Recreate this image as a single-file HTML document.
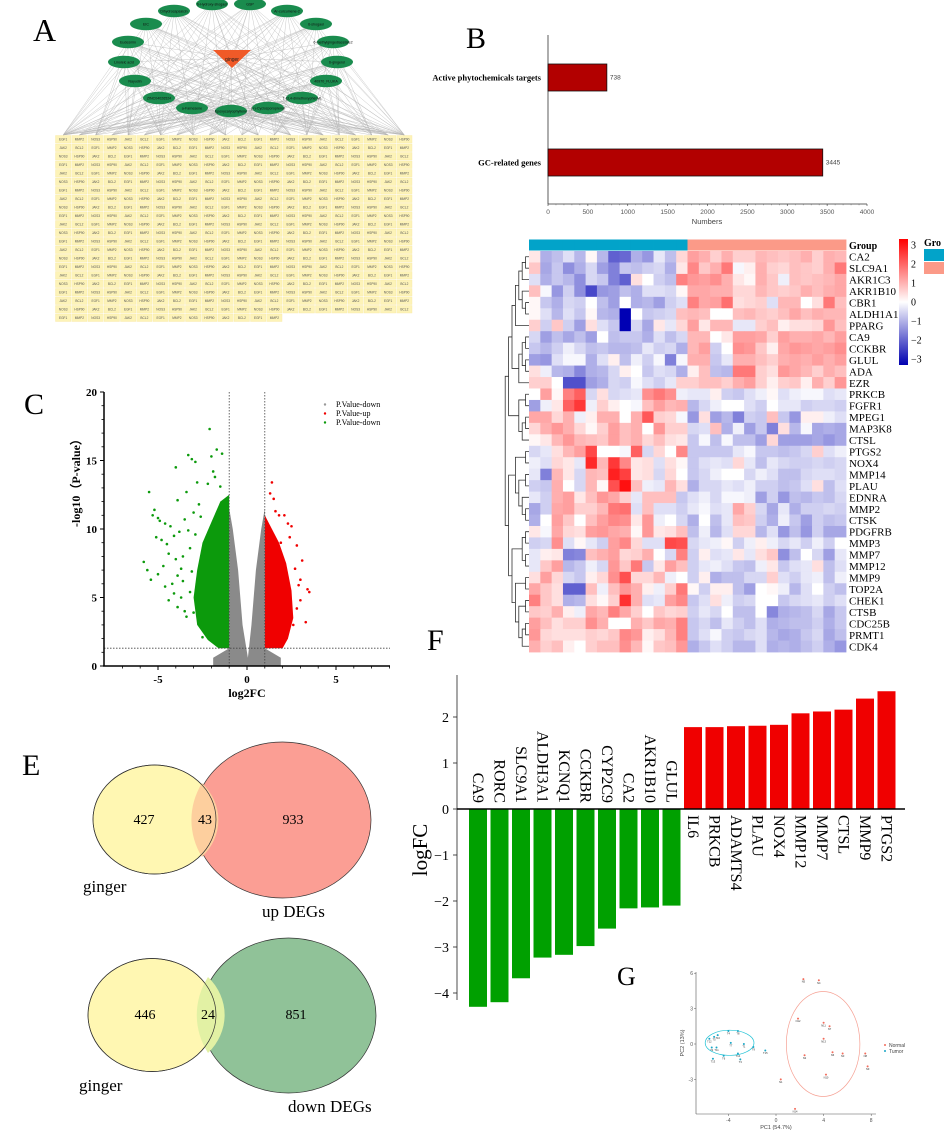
<!DOCTYPE html>
<html><head><meta charset="utf-8">
<style>
html,body{margin:0;padding:0;background:#fff;}
svg{display:block;font-family:"Liberation Serif",serif;}
.sans{font-family:"Liberation Sans",sans-serif;}
</style></head>
<body>
<svg id="fig" width="944" height="1135" viewBox="0 0 944 1135" xmlns="http://www.w3.org/2000/svg">
<text x="33" y="41" font-size="32">A</text>
<text x="466" y="48" font-size="30">B</text>
<text x="24" y="414" font-size="30">C</text>
<text x="566" y="288" font-size="30">D</text>
<text x="22" y="775" font-size="30">E</text>
<text x="427" y="650" font-size="30">F</text>
<text x="617" y="985" font-size="26">G</text>

<g id="panelA"></g>
<g id="panelB"></g>
<g id="panelC"></g>
<g id="panelD"></g>

<g id="panelE">
  <ellipse cx="154.5" cy="819.5" rx="61.5" ry="54.5" fill="#fff7b2" stroke="#333" stroke-width="0.7"/>
  <ellipse cx="282.5" cy="820" rx="88.5" ry="78" fill="#fb9e94" stroke="#333" stroke-width="0.7"/>
  <path d="M202,783 A61.5,54.5 0 0 1 202,857 A88.5,78 0 0 1 202,783Z" fill="#fdcf9e" stroke="none"/>
  <ellipse cx="154.5" cy="819.5" rx="61.5" ry="54.5" fill="none" stroke="#333" stroke-width="0.7"/>
  <text x="144" y="824" font-size="14" text-anchor="middle">427</text>
  <text x="205" y="824" font-size="14" text-anchor="middle">43</text>
  <text x="293" y="824" font-size="14" text-anchor="middle">933</text>
  <text x="83" y="892" font-size="17">ginger</text>
  <text x="262" y="917" font-size="17">up DEGs</text>

  <ellipse cx="152" cy="1015" rx="64" ry="56.5" fill="#fff7b2" stroke="#333" stroke-width="0.7"/>
  <ellipse cx="288.5" cy="1015.5" rx="87.5" ry="77.5" fill="#90c298" stroke="#333" stroke-width="0.7"/>
  <path d="M208,977 A64,56.5 0 0 1 208,1053 A87.5,77.5 0 0 1 208,977Z" fill="#e2f1a4"/>
  <ellipse cx="152" cy="1015" rx="64" ry="56.5" fill="none" stroke="#333" stroke-width="0.7"/>
  <text x="145" y="1019" font-size="14" text-anchor="middle">446</text>
  <text x="208" y="1019" font-size="14" text-anchor="middle">24</text>
  <text x="296" y="1019" font-size="14" text-anchor="middle">851</text>
  <text x="79" y="1091" font-size="17">ginger</text>
  <text x="288" y="1112" font-size="17">down DEGs</text>
</g>

<g id="panelF"></g>
<g id="panelG"></g>
</svg>

<script>
// ===== Panel B data =====
const bCategories = ["Active phytochemicals targets", "GC-related genes"];
const bValues = [738, 3445];
const bTicks = [0,500,1000,1500,2000,2500,3000,3500,4000];

// ===== Panel C data (volcano) =====
const cTicksX = [-5, 0, 5];
const cTicksY = [0, 5, 10, 15, 20];
const grayEnvX = [-1.9,1.9,1.9,1,1,0.8,0.5,0.25,0.05,-0.25,-0.5,-0.8,-1,-1,-1.9];
const grayEnvY = [0,0,0.6,1.3,11.5,10,7,3,0.6,3,7,10,11.5,1.3,0.6];
const greenEnvX = [-1,-1,-1.5,-2.0,-2.5,-2.8,-3.0,-2.8,-2.2,-1.6];
const greenEnvY = [1.3,12.5,12,10.5,9,7,5,3,1.9,1.3];
const redEnvX = [1,1,1.4,1.8,2.2,2.5,2.6,2.3,2.0];
const redEnvY = [1.3,11,10,9,7.5,5.5,3.5,2,1.3];
const greenPtsX = [-2.1,-1.7,-1.4,-2.0,-1.9,-3.3,-3.1,-2.9,-4.0,-3.9,-5.5,-5.3,-5.2,-5.0,-4.6,-4.3,-4.1,-3.8,-5.8,-5.6,-5.4,-5.0,-4.7,-4.4,-4.1,-3.7,-3.5,-3.9,-2.3,-2.4,-2.6,-3.6,-4.0,-2.2,-2.8,-3.4,-3.0,-4.5,-4.8,-3.2,-3.3,-3.6,-3.1,-4.2,-4.9,-3.4,-3.7,-3.0,-2.5,-2.7,-4.6,-3.9,-4.4,-5.1,-3.5,-3.2,-2.9,-2.6,-1.8,-1.5];
const greenPtsY = [17.3,15.8,15.5,15.3,14.2,15.4,15.1,14.9,14.5,12.1,12.7,11.0,11.4,10.8,10.4,10.2,9.5,9.8,7.6,7.0,6.3,6.7,7.3,8.2,5.3,5.0,4.0,4.3,3.0,2.6,3.3,6.2,7.8,13.3,13.4,12.7,11.2,8.9,9.2,8.6,9.9,8.0,6.9,6.0,10.6,3.6,7.1,3.9,2.1,11.8,5.8,6.6,4.8,9.4,10.7,5.4,9.6,10.9,13.8,13.1];
const redPtsX = [1.4,1.3,1.6,1.8,2.3,2.5,2.8,3.1,3.4,3.5,3.3,3.0,2.7,1.9,2.1,2.9,2.6,1.5,2.8,3.0,2.4];
const redPtsY = [13.4,12.6,11.3,11.0,10.4,10.2,8.8,7.7,5.6,5.4,3.2,4.8,7.1,9.0,11.0,5.9,3.0,12.2,4.2,6.3,9.4];

// ===== Panel D data (heatmap) =====
const dGenes = ["CA2","SLC9A1","AKR1C3","AKR1B10","CBR1","ALDH1A1","PPARG","CA9","CCKBR","GLUL","ADA","EZR","PRKCB","FGFR1","MPEG1","MAP3K8","CTSL","PTGS2","NOX4","MMP14","PLAU","EDNRA","MMP2","CTSK","PDGFRB","MMP3","MMP7","MMP12","MMP9","TOP2A","CHEK1","CTSB","CDC25B","PRMT1","CDK4"];
const dGroups = ["Tumor","Tumor","Tumor","Tumor","Tumor","Tumor","Tumor","Tumor","Tumor","Tumor","Tumor","Tumor","Tumor","Tumor","Normal","Normal","Normal","Normal","Normal","Normal","Normal","Normal","Normal","Normal","Normal","Normal","Normal","Normal"];
const dValues = [
[0.3,-1,-0.8,-0.4,-0.9,0.1,-0.9,-2,-1.9,-1,-1.3,-0.3,-0.8,0.5,1.2,1,0.6,1,0.6,0.6,0.9,0.8,0.7,0.8,1,0.6,1,0.9],
[0.7,-1.1,-0.7,-1.4,-1,-0.5,-1.2,-1.6,-0.7,-0.8,-0.6,-0.5,-1,0.3,1.5,0.7,1,1.7,-0.1,0.2,1,0.6,0.5,0.8,0.7,0.6,1,1.7],
[-0.4,-1,-0.7,-0.9,-1.4,-0.5,-0.7,-1.6,-2,0.4,0,-0.6,-0.8,1.6,1.3,1.2,1.4,1,0.3,0.1,1,0.7,-0.2,0.8,0.7,0.8,0.9,1.1],
[0.8,-0.1,-1.3,-0.6,-1.4,-2.3,-1.3,-1.2,-0.8,-1,-0.4,-0.4,-0.5,0.1,1.1,1.1,1,1,0.5,0.5,0.9,0.7,0.6,0.7,1,0.8,1,1.1],
[0.1,-0.7,-1,-0.5,-0.6,0,-0.8,-1.2,0,-1,-0.9,-1.2,-0.6,-0.4,1.6,1.1,1.2,1.8,0.4,0.5,0.6,-0.4,0.9,0.9,0,0.4,1.7,0.8],
[0.1,-0.4,-0.9,-0.4,-0.7,0.1,-0.9,-1,-3.2,0,-0.7,-0.6,-0.5,0.8,0.9,0.8,0,0,0.8,0.9,0.7,0.6,0.8,1.1,0.8,1,0.9,0.9],
[0.6,-0.6,0.7,-0.6,-1.2,0.4,-0.4,-0.7,-3.2,-0.5,-1.1,0.3,-0.3,0.5,1.2,0.3,0.9,0.9,-0.3,-0.3,0.6,0.8,0.2,0.4,0.4,0.5,1.3,0.8],
[-0.5,-1.2,-0.8,-1.1,-0.8,-1.2,0,-0.8,-0.7,-0.7,-1,-0.4,-0.8,-0.5,0.9,0.9,0,0.3,1.2,1.2,1.1,0.6,1.2,1,1,1.1,0.9,1.2],
[-0.7,-0.9,-0.6,-0.2,-0.5,-0.8,-0.7,-0.9,-0.9,-0.8,-0.3,-0.6,-0.5,-1,0.9,1.2,-0.6,0,1.4,1.3,0.7,0.2,1.1,1.3,1.2,1.1,1.2,1.4],
[-1.2,-1.3,-0.4,-0.1,-0.1,-1,-0.4,0.2,-0.8,-0.2,-0.6,-0.1,-1.6,-0.1,1,1,-0.7,-0.3,1,1,0.8,0.6,1,1.1,1,1.2,1,1.2],
[0.4,-0.2,-0.9,-1,-1.5,-1,-0.9,-0.5,0.2,0,-0.7,-0.4,-0.5,-1,0.2,0.8,-0.8,-0.9,1.7,1.7,0.6,0.4,1.3,1.1,0.9,0.6,1,0.8],
[0.6,0.6,0,-2.2,-2.2,-1.2,-1,-0.5,-0.6,-0.1,-0.4,-0.6,-0.3,0.6,0.6,0.8,0.8,0.6,1,1.2,0.6,0.2,0.6,0.7,0.2,1,0.6,1.3],
[0,1.2,0.1,1.6,2,-0.5,0.4,-0.5,-0.4,-0.3,1.4,1.7,1.4,-0.2,-0.3,-0.3,0.2,-0.6,-0.7,-0.4,-0.2,0.1,-0.4,-0.2,-0.1,-0.1,-0.4,-0.3],
[-1.2,-0.2,0.3,2,2.5,-0.2,0.6,0.2,0,-0.1,0.8,1.2,0.9,1,-0.9,-0.5,-0.2,0,0,-0.4,-0.6,0,-0.3,-0.3,-0.6,-0.5,-0.5,-0.6],
[1.1,1.1,0.5,1,-0.2,0.2,1,1,0,1,2.1,0.6,0.5,-0.1,-1.3,0.4,-1.2,-0.9,-1.6,-0.6,-0.7,0.8,-0.7,-1.3,0.2,0.2,-0.2,-0.4],
[0.5,1,1.3,1,0.5,0.1,0.6,1.2,0.8,1,0,1.3,0.6,0.6,-0.5,-0.4,0.8,-1,-0.2,-1.2,-0.7,-1.6,0.4,-0.9,-0.1,-1.1,-1,-1.1],
[0.1,0.3,0.9,1.3,0.9,0.8,0.7,1.2,0.8,1,0.5,0.8,0.4,0.3,-0.7,-0.1,-0.8,-0.1,-0.8,-0.8,-1.2,0.5,-1.2,-1.2,-1.2,-1.1,-1.3,-1.1],
[-0.5,-0.3,0.4,0.9,1.2,2.3,0,0,-0.1,2,-0.5,0.5,0,1.5,-0.7,-0.7,-0.7,-0.7,-0.3,-0.1,-0.7,-0.7,-0.8,-0.7,-0.5,0.6,-0.4,-0.2],
[-0.2,-0.4,0.5,0.3,-0.3,2.7,0.9,2.5,1.5,0.3,0.4,-0.4,0.4,0.1,-0.7,-0.4,-0.3,-0.4,0.5,-0.3,-0.8,-0.3,-0.5,-0.6,-0.6,-0.5,-0.6,-0.5],
[-0.3,-1.6,0.9,0.3,-0.5,0.9,0.8,2.8,2.4,0.3,0.4,-0.5,0.5,0,-0.7,-0.5,-0.2,0,0,-0.5,-0.2,-0.4,-0.8,-0.8,-0.5,-0.4,-0.4,-0.5],
[-0.6,-0.7,1,0,-0.5,0.9,0.1,2.2,3,0.8,-0.2,-0.3,0.9,0.4,-1,-0.5,-0.5,-0.3,-0.4,-0.2,-0.6,-0.6,-0.8,-0.7,-0.4,0.4,-0.8,-0.4],
[-0.3,-0.6,1,1.2,0.3,0.8,1.3,1.1,0.6,-0.3,0.8,0.8,0.8,-0.7,-0.4,-0.2,-0.5,-0.1,-0.1,-0.2,-1.2,-0.6,-1.3,-0.8,-0.9,-0.7,-0.8,-0.5],
[-1.1,-0.6,1.1,1.2,0.6,0.6,0.9,1.7,1.8,-0.4,0.8,-0.4,-0.4,-0.6,-0.3,-0.1,-0.4,-0.3,1.1,0.6,-0.5,-1.1,-0.3,-1,-0.6,-0.6,-0.5,-0.6],
[-1,0,1.2,0.7,0,0.8,1.2,1.5,1.4,0.3,1.3,-0.2,0,-0.5,-1,0,-0.8,-0.3,0.8,0.7,-0.6,-1,-0.2,-0.7,-1.2,-0.6,-0.8,-0.7],
[0.3,-0.1,1.1,0.5,0.4,1.2,1.3,1.1,1,0.1,1.3,0.3,0.4,0.8,-0.8,-0.2,-0.9,-0.4,0.5,0.5,-0.9,-0.4,-1.3,-0.8,-1.3,-0.6,-1.1,-1.1],
[-0.6,-0.5,1.4,-0.4,0.1,-0.3,-0.6,1.2,1.5,0.5,-0.4,-0.4,2.3,2.2,-0.5,-0.3,-0.2,0.1,-0.6,-0.2,0.2,-0.2,-0.5,-0.3,-0.6,-0.2,-0.6,0],
[-0.3,0.2,0.3,-1.6,-1.5,0.8,1,1.2,0.5,0.6,1,0,-0.5,1.6,-0.6,0.2,-0.4,-0.3,0.3,-0.3,0.4,0.7,-1.4,-0.8,0,-0.5,-1.2,-0.3],
[-0.3,0.7,1.2,-0.9,-0.7,-0.2,-0.5,1.3,0.7,1.7,-0.7,0.3,1.2,0.8,-0.6,-0.3,-0.2,-0.4,-0.7,-0.8,-0.2,0.3,-0.7,-0.4,-0.3,0.4,-0.8,-0.4],
[0.4,1.2,0.5,-0.5,-0.7,0.2,0.5,1.4,2.2,0.5,0.5,0.9,-0.2,0,-0.6,0.2,-1,-0.8,-0.8,-0.5,-0.5,0.6,-0.4,-0.6,-0.3,-0.2,-0.8,-0.2],
[1.1,0.7,0.4,-2,-2,0.8,-0.2,0.8,1.3,1,0.2,-0.2,0.6,1.7,0.1,-0.6,0.2,0.2,-0.8,-1.2,0,0.1,-0.2,-0.9,-0.4,0,-0.6,-0.8],
[1.6,0.7,0.4,-1,-0.9,0.4,0.1,0.6,2.6,1,-0.4,-0.3,1.2,1.5,-0.7,-0.4,0.4,-0.2,-0.6,-0.5,0,0,-0.7,-0.5,-0.4,-0.3,-0.6,-0.4],
[0.7,0.6,1,0.2,-0.2,1.1,0.9,1.6,1.1,0.6,0,0.7,0.5,0.6,-0.6,-0.3,-0.5,0,-0.8,-0.8,0,-1.5,-1,-0.9,-0.8,-0.5,-1.1,-0.7],
[1.2,0.8,0.4,0.6,0.6,1.4,1,0,0,1,0.7,1.1,1,1.6,-0.7,-0.5,-0.8,-0.3,-0.6,-0.8,-0.4,-1,-0.9,-0.8,-0.8,-0.6,-1,-0.7],
[1.3,0.5,0.4,0.4,0.4,0.6,0.5,0.7,1.5,1.3,0.2,0.4,0.9,1.6,-0.7,-0.4,-0.1,-0.6,-0.7,-0.5,-0.4,-0.9,-1.1,-1,-0.7,-0.5,-1.1,-0.8],
[1,0.6,0.8,0.2,0,0.6,0.8,0.8,1.4,0.9,0.1,0.7,0.8,1.3,-1,-0.7,-0.4,-0.6,-0.9,-0.9,-0.4,-1,-0.9,-1,-0.8,-0.6,-1,-1.3]
];
const dTree = [[[[[[[0,1],2],[3,[4,5]]],6],[[[7,8],[9,10]],11]],[[12,13],[[14,15],16]]],[[[17,18],[[19,20],[21,[22,23]]]],[[[24,25],[26,27]],[[28,29],[[30,31],[[32,33],34]]]]]];
const dScaleTicks = [3,2,1,0,-1,-2,-3];

// ===== Panel F data =====
const fGenes = ["CA9","RORC","SLC9A1","ALDH3A1","KCNQ1","CCKBR","CYP2C9","CA2","AKR1B10","GLUL","IL6","PRKCB","ADAMTS4","PLAU","NOX4","MMP12","MMP7","CTSL","MMP9","PTGS2"];
const fValues = [-4.3,-4.2,-3.68,-3.23,-3.17,-2.98,-2.6,-2.16,-2.14,-2.1,1.78,1.78,1.8,1.81,1.83,2.08,2.12,2.16,2.4,2.56];
const fTicks = [2,1,0,-1,-2,-3,-4];

// ===== Panel G data =====
const gTumorX = [-5.6,-5.2,-4.9,-4.0,-3.2,-5.4,-5.0,-3.8,-2.7,-1.9,-3.2,-4.4,-5.3,-3.0,-0.9];
const gTumorY = [0.45,0.6,0.75,1.1,1.1,-0.3,-0.3,0.1,0.0,-0.25,-0.8,-1.0,-1.25,-1.3,-0.55];
const gTumorLab = ["T12","T5","T10","T4","T8","T2","T11","T7","T1","T9","T14","T6","T13","T3","T15"];
const gNormalX = [2.3,3.6,1.85,4.0,4.5,4.0,4.75,5.6,7.5,7.7,2.4,4.2,0.4,1.6];
const gNormalY = [5.5,5.4,2.15,1.8,1.5,0.45,-0.7,-0.8,-0.8,-1.9,-0.95,-2.6,-3.0,-5.5];
const gNormalLab = ["N5","N4","N12","N11","N7","N13","N6","N3","N8","N9","N2","N10","N1","N14"];
const gTicksX = [-4,0,4,8];
const gTicksY = [6,3,0,-3];

const NS="http://www.w3.org/2000/svg";
function mk(parent, tag, attrs, text){
  const e=document.createElementNS(NS,tag);
  for(const k in attrs) e.setAttribute(k,attrs[k]);
  if(text!==undefined) e.textContent=text;
  parent.appendChild(e); return e;
}

// ===== Panel A =====
(function(){
  const g=document.getElementById('panelA');
  const herbs=[["6-Hydroxy-shogaol",212,4],["GSP",250,4],["Dihydrocapsaicin",174,11],["Ar-curcumene-2",287,11],["EIC",146,24],["6-shogaol",316,24],["Eudesmin",128,42],["6-methylgingediacetate2",333,42],["Linoleic acid",124,62],["6-gingerol",337,62],["Nayudin",135,81],["40970_FLUKA",326,81],["ZINC04026524",159,98],["1-(3,4-dimethoxyphenyl)",302,98],["a-Farnesene",192,108],["Epoxycaryophyllene",231,111],["(+)-Cyclosporoprenal",268,108]];
  const cellW=16.25, cellH=8.5, x0=55, y0=135, cols=22;
  const lines=mk(g,'g',{stroke:'#9a9a9a','stroke-width':0.35,opacity:0.75});
  
  
  herbs.forEach((h,i)=>{
    for(let c=0;c<cols;c+=1){
      if((c+i)%2===0||c===0||c===cols-1){
        mk(lines,'line',{x1:h[1],y1:h[2],x2:x0+c*cellW+cellW/2,y2:y0});
      }
    }
    mk(lines,'line',{x1:h[1],y1:h[2],x2:232,y2:58});
  });
  for(let c=0;c<cols;c+=2) mk(lines,'line',{x1:232,y1:60,x2:x0+c*cellW+8,y2:y0});
  const names=["EGF1","CST","PPARG","PDE4B","PIK3CA","ADRB1","ADRA2","MMP2","ALOX5","PRKCB","AKT1","HTR2A","PARP1","ABCB1","NOS3","FGFR1","CA2","ESR1","PTGS2","CDK4","MAPK1","HSP90","TOP2A","CHEK1","CTSB","EGFR","KDR","SRC","JAK2","ACHE","MMP9","IL6","TNF","VEGFA","CASP3","BCL2","STAT3","MTOR","NOX4","PLAU","EDNRA","CTSK"];
  let k=0;
  for(let r=0;r<22;r++){
    const n = r===21?14:cols;
    for(let c=0;c<n;c++){
      const cx=x0+c*cellW, cy=y0+r*cellH;
      const cell=mk(g,'rect',{x:cx+0.5,y:cy+0.5,width:cellW-1,height:cellH-1,fill:'#fdf3b8',stroke:'#f7e9a6','stroke-width':0.4});
      
      
      const t=mk(g,'text',{x:cx+cellW/2,y:cy+5.6,'font-size':3.2,'text-anchor':'middle',fill:'#555','class':'sans'},names[k%names.length]);
      
      
      k+=7;
    }
  }
  herbs.forEach(h=>{
    const e=mk(g,'ellipse',{cx:h[1],cy:h[2],rx:16,ry:6.2,fill:'#1a8c4e'});
    
    
    const t=mk(g,'text',{x:h[1],y:h[2]+1.3,'font-size':3.6,'text-anchor':'middle',fill:'#111','class':'sans'},h[0]);
    
    
  });
  const tri=mk(g,'polygon',{points:'213,50 251,50 232,68',fill:'#f05a28'});
  
  
  const tt=mk(g,'text',{x:232,y:61,'font-size':5,'text-anchor':'middle',fill:'#222','class':'sans'},'ginger');
  
  
})();

// ===== Panel B =====
(function(){
  const g=document.getElementById('panelB');
  const x=v=>548+v*(867-548)/4000;
  const bandY=[64,149], bandH=27;
  mk(g,'line',{x1:548,y1:35,x2:548,y2:204,stroke:'#333','stroke-width':0.8});
  mk(g,'line',{x1:548,y1:204,x2:867,y2:204,stroke:'#333','stroke-width':0.8});
  bTicks.forEach(t=>{
    mk(g,'line',{x1:x(t),y1:204,x2:x(t),y2:206,stroke:'#333','stroke-width':0.6});
    const tx=mk(g,'text',{x:x(t),y:214,'font-size':6.5,'text-anchor':'middle',fill:'#555','class':'sans'},t);
    
    
  });
  for(let t=100;t<4000;t+=100){ if(t%500) mk(g,'line',{x1:x(t),y1:204,x2:x(t),y2:205.3,stroke:'#555','stroke-width':0.4}); }
  bCategories.forEach((c,i)=>{
    const r=mk(g,'rect',{x:548,y:bandY[i],width:x(bValues[i])-548,height:bandH,fill:'#b20000',stroke:'#111','stroke-width':0.8});
    
    
    const lab=mk(g,'text',{x:541,y:bandY[i]+bandH/2+3,'font-size':8.5,'font-weight':'bold','text-anchor':'end'},c);
    
    
    const v=mk(g,'text',{x:x(bValues[i])+3,y:bandY[i]+bandH/2+2,'font-size':6.5,fill:'#444','class':'sans'},bValues[i]);
    
    
  });
  const xl=mk(g,'text',{x:707,y:224,'font-size':7.5,'text-anchor':'middle',fill:'#444','class':'sans'},'Numbers');
  
  
})();

// ===== Panel C =====
(function(){
  const g=document.getElementById('panelC');
  const X=v=>247+v*17.8, Y=v=>666-v*13.7;
  const poly=(xs,ys,col,name)=>{
    const p=mk(g,'polygon',{points:xs.map((v,i)=>X(v)+','+Y(ys[i])).join(' '),fill:col});
    
    
  };
  poly(grayEnvX,grayEnvY,'#8a8a8a','gray-point-cloud');
  poly(greenEnvX,greenEnvY,'#0c9a0c','down-point-cloud');
  poly(redEnvX,redEnvY,'#f00000','up-point-cloud');
  greenPtsX.forEach((v,i)=>{
    const c=mk(g,'circle',{cx:X(v),cy:Y(greenPtsY[i]),r:1.3,fill:'#0c9a0c'});
    
    
  });
  redPtsX.forEach((v,i)=>{
    const c=mk(g,'circle',{cx:X(v),cy:Y(redPtsY[i]),r:1.3,fill:'#f00000'});
    
    
  });
  const dash={stroke:'#444','stroke-width':0.8,'stroke-dasharray':'1.5,1.5'};
  mk(g,'line',Object.assign({x1:X(-1),y1:Y(20),x2:X(-1),y2:666},dash));
  mk(g,'line',Object.assign({x1:X(1),y1:Y(20),x2:X(1),y2:666},dash));
  mk(g,'line',Object.assign({x1:104,y1:Y(1.3),x2:390,y2:Y(1.3)},dash));
  mk(g,'line',{x1:104,y1:Y(20),x2:104,y2:666,stroke:'#000','stroke-width':1.5});
  mk(g,'line',{x1:103,y1:666,x2:390,y2:666,stroke:'#000','stroke-width':1.5});
  for(let t=1;t<20;t++){ if(t%5) mk(g,'line',{x1:101.5,y1:Y(t),x2:104,y2:Y(t),stroke:'#000','stroke-width':0.8}); }
  for(let t=-7;t<=8;t++){ if(t%5) mk(g,'line',{x1:X(t),y1:666,x2:X(t),y2:668.5,stroke:'#000','stroke-width':0.8}); }
  cTicksX.forEach(t=>{
    mk(g,'line',{x1:X(t),y1:666,x2:X(t),y2:670,stroke:'#000','stroke-width':1});
    const tx=mk(g,'text',{x:X(t),y:683,'font-size':11,'font-weight':'bold','text-anchor':'middle'},t);
    
    
  });
  cTicksY.forEach(t=>{
    mk(g,'line',{x1:100,y1:Y(t),x2:104,y2:Y(t),stroke:'#000','stroke-width':1});
    const tx=mk(g,'text',{x:97,y:Y(t)+4,'font-size':11,'font-weight':'bold','text-anchor':'end'},t);
    
    
  });
  const xl=mk(g,'text',{x:247,y:697,'font-size':12,'font-weight':'bold','text-anchor':'middle'},'log2FC');
  
  
  const yl=mk(g,'text',{x:0,y:0,'font-size':12,'font-weight':'bold','text-anchor':'middle',transform:'translate(80,480) rotate(-90)'},'-log10（P-value）');
  
  
  const leg=[['#999','P.Value-down'],['#f00000','P.Value-up'],['#0c9a0c','P.Value-down']];
  leg.forEach((l,i)=>{
    const y=407+i*9;
    mk(g,'circle',{cx:325,cy:y-2.5,r:1.2,fill:l[0]});
    const t=mk(g,'text',{x:336,y:y,'font-size':8},l[1]);
    
    
  });
})();

// ===== Panel D =====
(function(){
  const g=document.getElementById('panelD');
  const x0=529, y0=251, cw=(846-529)/28, ch=(652-251)/35;
  const col=v=>{
    const t=Math.min(Math.abs(v)/3.2,1);
    if(v>=0) return `rgb(255,${Math.round(255*(1-t))},${Math.round(255*(1-t))})`;
    return `rgb(${Math.round(255*(1-t))},${Math.round(255*(1-t))},${Math.round(255-75*t)})`;
  };
  dGroups.forEach((gr,j)=>{
    const r=mk(g,'rect',{x:x0+j*cw,y:239.5,width:cw+0.4,height:11,fill:gr==='Tumor'?'#02a3c9':'#fb9a88'});
    
    
  });
  dValues.forEach((row,i)=>{
    row.forEach((v,j)=>{
      const r=mk(g,'rect',{x:x0+j*cw,y:y0+i*ch,width:cw+0.4,height:ch+0.4,fill:col(v)});
      
      
    });
    const t=mk(g,'text',{x:849,y:y0+i*ch+ch/2+4,'font-size':11},dGenes[i]);
    
    
  });
  const gl=mk(g,'text',{x:849,y:249,'font-size':10,'font-weight':'bold'},'Group');
  
  
  const dg=mk(g,'g',{stroke:'#333','stroke-width':0.8,fill:'none'});
  
  
  function draw(node){
    if(typeof node==='number') return {y:y0+node*ch+ch/2,h:0,x:529};
    const a=draw(node[0]), b=draw(node[1]);
    const h=Math.max(a.h,b.h)+1;
    const x=529-h*3.4;
    mk(dg,'path',{d:`M${a.x},${a.y}H${x}V${b.y}H${b.x}`});
    return {y:(a.y+b.y)/2,h:h,x:x};
  }
  draw(dTree);
  const cb=mk(g,'defs',{});
  const lg=mk(cb,'linearGradient',{id:'cbg',x1:0,y1:0,x2:0,y2:1});
  [[0,'#ff0000'],[0.5,'#ffffff'],[1,'#0000b0']].forEach(s=>mk(lg,'stop',{offset:s[0],'stop-color':s[1]}));
  const bar=mk(g,'rect',{x:899,y:239,width:9,height:126,fill:'url(#cbg)'});
  
  
  dScaleTicks.forEach(t=>{
    const y=302-t*19;
    const tx=mk(g,'text',{x:911,y:y+3.5,'font-size':10},t===0?'0':(t<0?'−'+(-t):t));
    
    
  });
  const gl2=mk(g,'text',{x:924,y:246,'font-size':10,'font-weight':'bold'},'Gro');
  
  
  const l1=mk(g,'rect',{x:924,y:249,width:20,height:12,fill:'#02a3c9'});
  
  
  const l2=mk(g,'rect',{x:924,y:262,width:20,height:12,fill:'#fb9a88'});
  
  
})();

// ===== Panel F =====
(function(){
  const g=document.getElementById('panelF');
  const Y=v=>809-v*46, step=21.5, bx0=469, bw=18;
  mk(g,'line',{x1:457,y1:675,x2:457,y2:1000,stroke:'#222','stroke-width':0.8});
  fTicks.forEach(t=>{
    mk(g,'line',{x1:453,y1:Y(t),x2:457,y2:Y(t),stroke:'#222','stroke-width':0.8});
    const tx=mk(g,'text',{x:449,y:Y(t)+5,'font-size':14,'text-anchor':'end'},t<0?'−'+(-t):t);
    
    
  });
  fValues.forEach((v,i)=>{
    const x=bx0+i*step;
    const r=mk(g,'rect',{x:x,y:Math.min(Y(v),Y(0)),width:bw,height:Math.abs(Y(v)-Y(0)),fill:v<0?'#00a000':'#f00000'});
    
    
    const cx=x+bw/2;
    let t;
    if(v<0) t=mk(g,'text',{x:0,y:0,'font-size':16,'text-anchor':'end',transform:`translate(${cx-5},803) rotate(90)`},fGenes[i]);
    else t=mk(g,'text',{x:0,y:0,'font-size':16,'text-anchor':'start',transform:`translate(${cx-5},815) rotate(90)`},fGenes[i]);
    
    
  });
  mk(g,'line',{x1:457,y1:Y(0),x2:905,y2:Y(0),stroke:'#000','stroke-width':1.6});
  const yl=mk(g,'text',{x:0,y:0,'font-size':21,'text-anchor':'middle',transform:'translate(427,850) rotate(-90)'},'logFC');
  
  
})();

// ===== Panel G =====
(function(){
  const g=document.getElementById('panelG');
  const X=v=>776+v*11.9, Y=v=>1044-v*11.8;
  mk(g,'line',{x1:696,y1:972,x2:696,y2:1114,stroke:'#555','stroke-width':0.6});
  mk(g,'line',{x1:696,y1:1114,x2:876,y2:1114,stroke:'#555','stroke-width':0.6});
  gTicksX.forEach(t=>{
    mk(g,'line',{x1:X(t),y1:1114,x2:X(t),y2:1116,stroke:'#555','stroke-width':0.5});
    const tx=mk(g,'text',{x:X(t),y:1122,'font-size':5,'text-anchor':'middle',fill:'#555','class':'sans'},t);
    
    
  });
  gTicksY.forEach(t=>{
    mk(g,'line',{x1:694,y1:Y(t),x2:696,y2:Y(t),stroke:'#555','stroke-width':0.5});
    const tx=mk(g,'text',{x:693,y:Y(t)+2,'font-size':5,'text-anchor':'end',fill:'#555','class':'sans'},t);
    
    
  });
  const e1=mk(g,'ellipse',{cx:X(-3.9),cy:Y(0.1),rx:2.05*11.9,ry:1.07*11.8,fill:'none',stroke:'#26c4d6','stroke-width':0.7});
  
  
  const e2=mk(g,'ellipse',{cx:X(3.96),cy:Y(0),rx:3.09*11.9,ry:4.45*11.8,fill:'none',stroke:'#f6a194','stroke-width':0.7});
  
  
  gTumorX.forEach((v,i)=>{
    const c=mk(g,'circle',{cx:X(v),cy:Y(gTumorY[i]),r:1,fill:'#1aa6c6'});
    
    
    mk(g,'text',{x:X(v),y:Y(gTumorY[i])+3.6,'font-size':2.6,'text-anchor':'middle',fill:'#333','class':'sans'},gTumorLab[i]);
  });
  gNormalX.forEach((v,i)=>{
    const c=mk(g,'circle',{cx:X(v),cy:Y(gNormalY[i]),r:1,fill:'#f26b5b'});
    
    
    mk(g,'text',{x:X(v),y:Y(gNormalY[i])+3.6,'font-size':2.6,'text-anchor':'middle',fill:'#333','class':'sans'},gNormalLab[i]);
  });
  mk(g,'circle',{cx:885,cy:1045,r:1,fill:'#f26b5b'});
  mk(g,'circle',{cx:885,cy:1051,r:1,fill:'#1aa6c6'});
  const t1=mk(g,'text',{x:889,y:1047,'font-size':5,fill:'#444','class':'sans'},'Normal');
  
  
  const t2=mk(g,'text',{x:889,y:1053,'font-size':5,fill:'#444','class':'sans'},'Tumor');
  
  
  const xl=mk(g,'text',{x:776,y:1129,'font-size':5.5,'text-anchor':'middle',fill:'#444','class':'sans'},'PC1 (54.7%)');
  
  
  const yl=mk(g,'text',{x:0,y:0,'font-size':5.5,'text-anchor':'middle',fill:'#444','class':'sans',transform:'translate(684,1043) rotate(-90)'},'PC2 (13%)');
  
  
})();
</script>
</body></html>
